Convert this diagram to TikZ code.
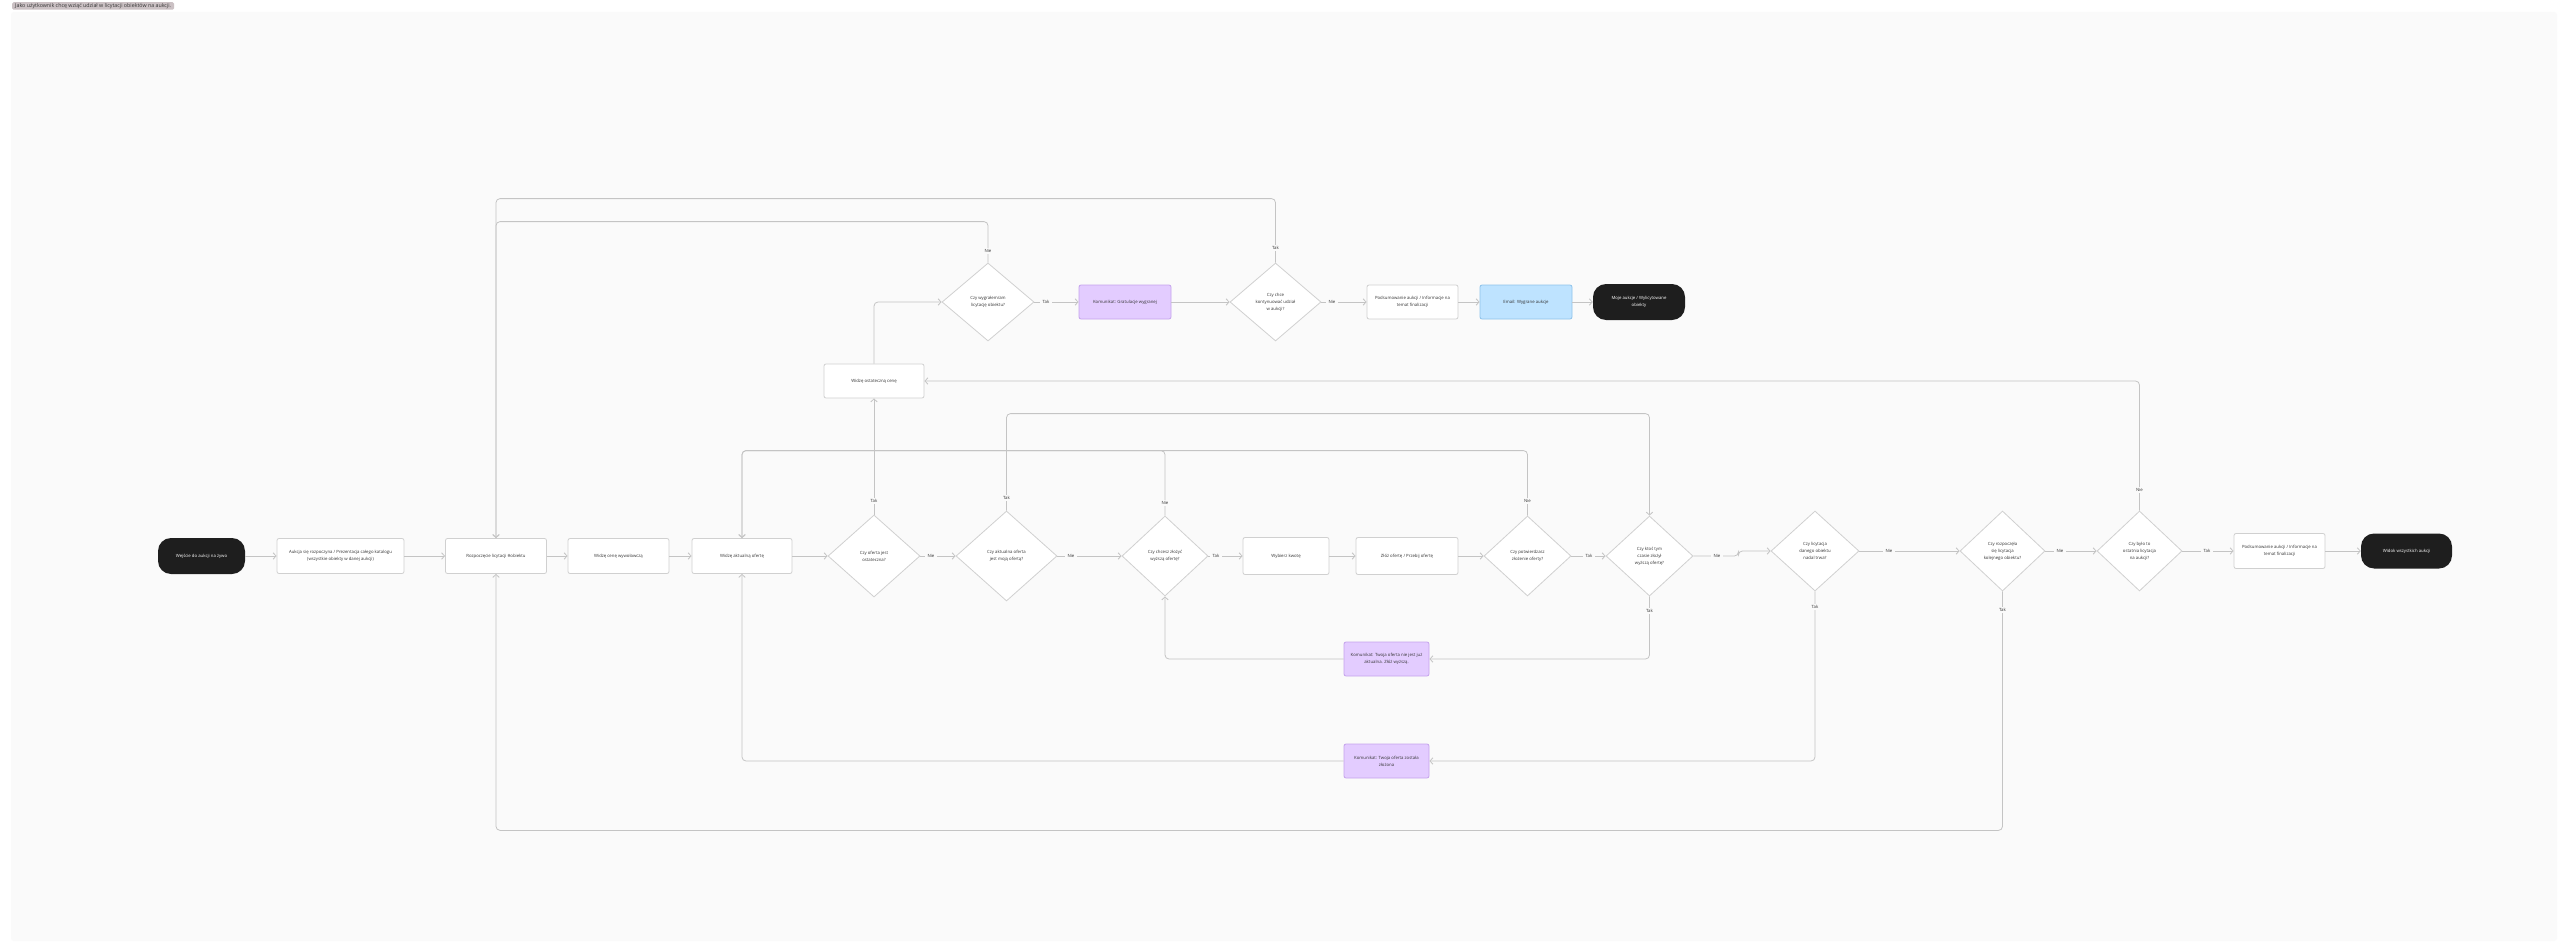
\documentclass[tikz,border=0pt]{standalone}
\usepackage{fontspec}
\setmainfont{Open Sans}
\usetikzlibrary{shapes.geometric,arrows.meta,calc}
\definecolor{panel}{HTML}{FAFAFA}
\definecolor{edge}{HTML}{C4C4C4}
\definecolor{bord}{HTML}{D0D0D0}
\definecolor{txt}{HTML}{333333}
\definecolor{pill}{HTML}{1E1E1E}
\definecolor{lav}{HTML}{E3CCFF}
\definecolor{lavb}{HTML}{C5A3EC}
\definecolor{sky}{HTML}{BEE3FF}
\definecolor{skyb}{HTML}{8EC2EA}
\definecolor{tagc}{HTML}{CBC1C4}
\tikzset{
  base/.style={font=\fontsize{4.3}{7}\selectfont, text=txt, align=center, inner sep=0pt},
  box/.style={base, draw=bord, fill=white, line width=0.8pt, rounded corners=2pt, minimum height=35pt},
  term/.style={base, fill=pill, text=white, rounded corners=13pt, minimum height=36pt},
  msg/.style={box, fill=lav, draw=lavb},
  mail/.style={box, fill=sky, draw=skyb},
  dec/.style={base, diamond, draw=bord, fill=white, line width=0.8pt, minimum width=90pt, minimum height=80pt},
  conn/.style={draw=edge, line width=0.8pt, rounded corners=4pt, -{Straight Barb[length=3pt,width=6.5pt]}},
  lbl/.style={base, fill=panel, inner xsep=2.5pt, inner ysep=1pt, text=txt},
}
\begin{document}
\begin{tikzpicture}[x=1pt,y=-1pt]
\useasboundingbox (0,0) rectangle (2560,947);
\fill[white] (0,0) rectangle (2560,947);
\fill[panel, rounded corners=3pt] (11,12) rectangle (2557,941);
\node[base, font=\fontsize{5.3}{6}\selectfont, fill=tagc, rounded corners=1.5pt, minimum height=7.5pt, inner xsep=3pt, anchor=west] (title) at (12,6) {Jako użytkownik chcę wziąć udział w licytacji obiektów na aukcji.};

% main row
\node[term, minimum width=87pt] (start) at (201.5,556) {Wejście do aukcji na żywo};
\node[box, minimum width=127pt] (aukcja) at (340.5,556) {Aukcja się rozpoczyna / Prezentacja całego katalogu\\(wszystkie obiekty w danej aukcji)};
\node[box, minimum width=101pt] (rozp) at (496,556) {Rozpoczęcie licytacji \#obiektu};
\node[box, minimum width=101pt] (cena) at (618.5,556) {Widzę cenę wywoławczą};
\node[box, minimum width=100pt] (akt) at (742,556) {Widzę aktualną ofertę};
\node[dec, minimum width=92pt, minimum height=82pt] (d1) at (874,556) {Czy oferta jest\\ostateczna?};
\node[dec, minimum width=101pt, minimum height=90pt] (d2) at (1006.5,556) {Czy aktualna oferta\\jest moją ofertą?};
\node[dec, minimum width=86pt] (d3) at (1165,556) {Czy chcesz złożyć\\wyższą ofertę?};
\node[box, minimum width=86pt, minimum height=37pt] (kwota) at (1286,556) {Wybierz kwotę};
\node[box, minimum width=102pt, minimum height=37pt] (zloz) at (1407,556) {Złóż ofertę / Przebij ofertę};
\node[dec, minimum width=87pt] (d4) at (1527.5,556) {Czy potwierdzasz\\złożenie oferty?};
\node[dec, minimum width=87pt] (d5) at (1649.5,556) {Czy ktoś tym\\czasie złożył\\wyższą ofertę?};
\node[dec, minimum width=88pt] (d6) at (1815,551) {Czy licytacja\\danego obiektu\\nadal trwa?};
\node[dec, minimum width=85pt] (d7) at (2002.5,551) {Czy rozpoczęła\\się licytacja\\kolejnego obiektu?};
\node[dec, minimum width=85pt] (d8) at (2139.5,551) {Czy było to\\ostatnia licytacja\\na aukcji?};
\node[box, minimum width=91pt] (pod2) at (2279.5,551) {Podsumowanie aukcji / Informacje na\\temat finalizacji};
\node[term, minimum width=91pt, minimum height=35pt] (widok) at (2406.5,551) {Widok wszystkich aukcji};

% top row
\node[box, minimum width=100pt, minimum height=34pt] (ost) at (874,381) {Widzę ostateczną cenę};
\node[dec, minimum width=92pt, minimum height=78pt] (dw) at (988,302) {Czy wygrałem/am\\licytację obiektu?};
\node[msg, minimum width=92pt, minimum height=34pt] (grat) at (1125,302) {Komunikat: Gratulacje wygranej};
\node[dec, minimum width=91pt, minimum height=78pt] (dk) at (1275.5,302) {Czy chce\\kontynuować udział\\w aukcji?};
\node[box, minimum width=91pt, minimum height=34pt] (pod1) at (1412.5,302) {Podsumowanie aukcji / Informacje na\\temat finalizacji};
\node[mail, minimum width=92pt, minimum height=34pt] (mail) at (1526,302) {Email: Wygrane aukcje};
\node[term, minimum width=92pt] (moje) at (1639,302) {Moje aukcje / Wylicytowane\\obiekty};

% messages
\node[msg, minimum width=85pt, minimum height=34pt] (nieakt) at (1386.5,659) {Komunikat: Twoja oferta nie jest już\\aktualna. Złóż wyższą.};
\node[msg, minimum width=85pt, minimum height=34pt] (zl) at (1386.5,761) {Komunikat: Twoja oferta została\\złożona};

% connectors main row
\draw[conn] (start) -- (aukcja);
\draw[conn] (aukcja) -- (rozp);
\draw[conn] (rozp) -- (cena);
\draw[conn] (cena) -- (akt);
\draw[conn] (akt) -- (d1);
\draw[conn] (d1) -- (d2);
\draw[conn] (d2) -- (d3);
\draw[conn] (d3) -- (kwota);
\draw[conn] (kwota) -- (zloz);
\draw[conn] (zloz) -- (d4);
\draw[conn] (d4) -- (d5);
\draw[conn] (d5.east) -- ++(45,0) |- (d6.west);
\draw[conn] (d6) -- (d7);
\draw[conn] (d7) -- (d8);
\draw[conn] (d8) -- (pod2);
\draw[conn] (pod2) -- (widok);

% top row
\draw[conn] (d1.north) -- (ost.south);
\draw[conn] (ost.north) |- (dw.west);
\draw[conn] (dw) -- (grat);
\draw[conn] (grat) -- (dk);
\draw[conn] (dk) -- (pod1);
\draw[conn] (pod1) -- (mail);
\draw[conn] (mail) -- (moje);
\draw[conn] (dk.north) -- ++(0,-64) -| (rozp.north);
\draw[conn] (dw.north) -- ++(0,-41) -| (rozp.north);
\draw[conn] (d8.north) |- (ost.east);

% loops
\draw[conn] (d2.north) -- ++(0,-97) -| (d5.north);
\draw[conn] (d3.north) -- ++(0,-65) -| (akt.north);
\draw[conn] (d4.north) -- ++(0,-65) -| (akt.north);
\draw[conn] (d5.south) |- (nieakt.east);
\draw[conn] (nieakt.west) -| (d3.south);
\draw[conn] (d6.south) |- (zl.east);
\draw[conn] (zl.west) -| (akt.south);
\draw[conn] (d7.south) -- ++(0,239) -| (rozp.south);

% labels
\node[lbl] (l1) at (931,556) {Nie};
\node[lbl] (l2) at (1071,556) {Nie};
\node[lbl] (l3) at (1216,556) {Tak};
\node[lbl] (l4) at (1589,556) {Tak};
\node[lbl] (l5) at (1717,556) {Nie};
\node[lbl] (l6) at (1889,551) {Nie};
\node[lbl] (l7) at (2060,551) {Nie};
\node[lbl] (l8) at (2207,551) {Tak};
\node[lbl] (l9) at (874,501) {Tak};
\node[lbl] (l10) at (1006.5,498) {Tak};
\node[lbl] (l11) at (1165,503) {Nie};
\node[lbl] (l12) at (1527.5,501) {Nie};
\node[lbl] (l13) at (1649.5,611) {Tak};
\node[lbl] (l14) at (1815,607) {Tak};
\node[lbl] (l15) at (2002.5,610) {Tak};
\node[lbl] (l16) at (2139.5,490) {Nie};
\node[lbl] (l17) at (1046,302) {Tak};
\node[lbl] (l18) at (1332,302) {Nie};
\node[lbl] (l19) at (1275.5,248) {Tak};
\node[lbl] (l20) at (988,251) {Nie};
\end{tikzpicture}
\end{document}
